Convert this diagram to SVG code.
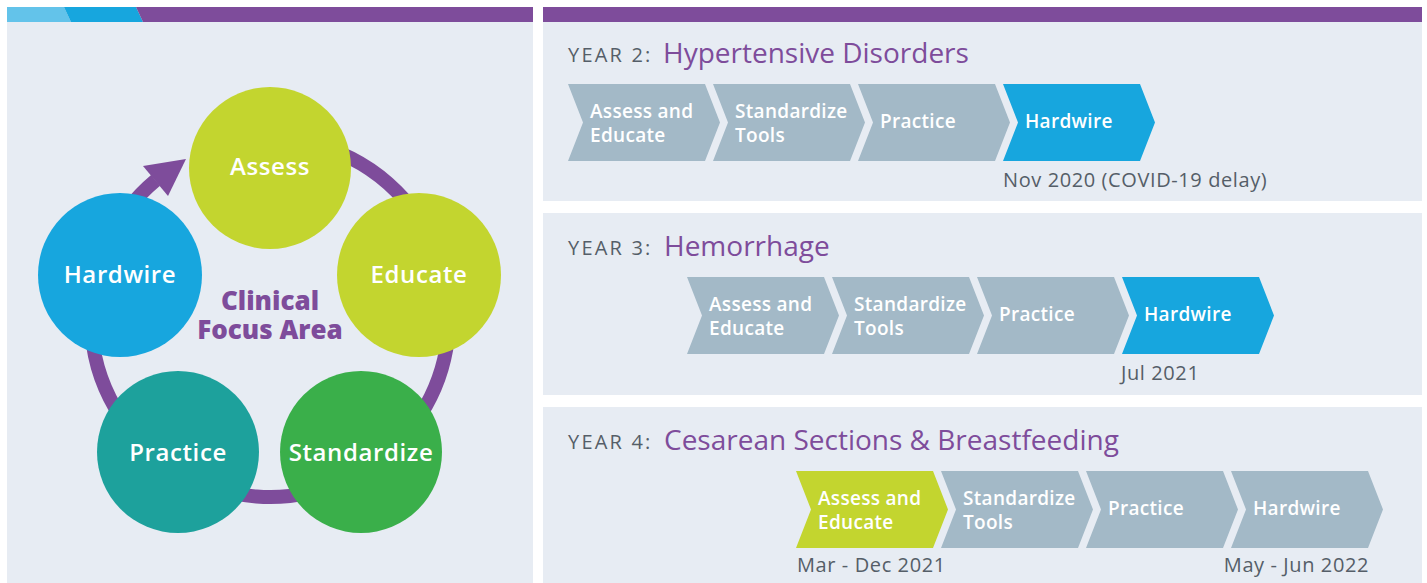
<svg xmlns="http://www.w3.org/2000/svg" width="1427" height="583" viewBox="0 0 1427 583">
<style>
.bg{fill:#E7ECF3}
.pur{fill:#7E4C9B}
.chev{fill:#A3B9C7}
.chevb{fill:#17A6DE}
.chevg{fill:#C3D52F}
.ct{font-family:"Open Sans",sans-serif;font-weight:600;font-size:19px;fill:#fff;letter-spacing:0.3px}
.circ{font-family:"Open Sans",sans-serif;font-weight:600;font-size:24px;fill:#fff;text-anchor:middle;letter-spacing:0.6px}
.cfa{font-family:"Open Sans",sans-serif;font-weight:800;font-size:26px;fill:#7E4C9B;text-anchor:middle}
.yr{font-family:"Open Sans",sans-serif;font-size:20px;fill:#555E68;letter-spacing:2.2px}
.ttl{font-family:"Open Sans",sans-serif;font-weight:500;font-size:28px;fill:#7E4C9B}
.dt{font-family:"Open Sans",sans-serif;font-size:20px;fill:#555E68;letter-spacing:0.6px}
</style>
<defs>
<path id="chev" d="M0,0 L137,0 L152,38.5 L137,77 L0,77 L15,38.5 Z"/>
</defs>
<rect width="1427" height="583" fill="#fff"/>
<!-- left panel -->
<rect class="bg" x="7" y="7" width="526" height="576"/>
<polygon points="7,7 64,7 71,22 7,22" fill="#63C3EA"/>
<polygon points="64,7 136,7 143,22 71,22" fill="#17A6DE"/>
<polygon class="pur" points="136,7 533,7 533,22 143,22"/>
<g id="connectors">
<path d="M155.6,180.3 A179,179 0 1 0 238.9,141.7" fill="none" stroke="#7E4C9B" stroke-width="14"/>
<polygon class="pur" points="143,166 168,196 186,159"/>
</g>
<g id="node-assess"><circle cx="270" cy="168" r="81" fill="#C3D52F"/><text class="circ" x="270" y="175">Assess</text></g>
<g id="node-educate"><circle cx="419" cy="275" r="82" fill="#C3D52F"/><text class="circ" x="419" y="283">Educate</text></g>
<g id="node-hardwire"><circle cx="120" cy="275" r="82" fill="#17A6DE"/><text class="circ" x="120" y="283">Hardwire</text></g>
<g id="node-practice"><circle cx="178" cy="452" r="81" fill="#1DA19C"/><text class="circ" x="178" y="461">Practice</text></g>
<g id="node-standardize"><circle cx="361" cy="452" r="81" fill="#3AAF4A"/><text class="circ" x="361" y="461">Standardize</text></g>
<g id="center-label"><text class="cfa" x="270" y="310">Clinical</text><text class="cfa" x="270" y="339">Focus Area</text></g>
<!-- right panels -->
<rect class="bg" x="543" y="7" width="879" height="194"/>
<rect class="pur" x="543" y="7" width="879" height="15"/>
<rect class="bg" x="543" y="213" width="879" height="182"/>
<rect class="bg" x="543" y="407" width="879" height="176"/>
<g id="year2">
<text class="yr" x="568" y="62">YEAR 2:</text><text class="ttl" x="663" y="63">Hypertensive Disorders</text>
<g id="y2-assess"><use href="#chev" x="568" y="84" class="chev"/><text class="ct" x="590" y="118">Assess and</text><text class="ct" x="590" y="142">Educate</text></g>
<g id="y2-standardize"><use href="#chev" x="713" y="84" class="chev"/><text class="ct" x="735" y="118">Standardize</text><text class="ct" x="735" y="142">Tools</text></g>
<g id="y2-practice"><use href="#chev" x="858" y="84" class="chev"/><text class="ct" x="880" y="128">Practice</text></g>
<g id="y2-hardwire"><use href="#chev" x="1003" y="84" class="chevb"/><text class="ct" x="1025" y="128">Hardwire</text></g>
<text class="dt" x="1003" y="187">Nov 2020 (COVID-19 delay)</text>
</g>
<g id="year3">
<text class="yr" x="568" y="255">YEAR 3:</text><text class="ttl" x="664" y="256">Hemorrhage</text>
<g id="y3-assess"><use href="#chev" x="687" y="277" class="chev"/><text class="ct" x="709" y="311">Assess and</text><text class="ct" x="709" y="335">Educate</text></g>
<g id="y3-standardize"><use href="#chev" x="832" y="277" class="chev"/><text class="ct" x="854" y="311">Standardize</text><text class="ct" x="854" y="335">Tools</text></g>
<g id="y3-practice"><use href="#chev" x="977" y="277" class="chev"/><text class="ct" x="999" y="321">Practice</text></g>
<g id="y3-hardwire"><use href="#chev" x="1122" y="277" class="chevb"/><text class="ct" x="1144" y="321">Hardwire</text></g>
<text class="dt" x="1121" y="380">Jul 2021</text>
</g>
<g id="year4">
<text class="yr" x="568" y="449">YEAR 4:</text><text class="ttl" x="664" y="450">Cesarean Sections &amp; Breastfeeding</text>
<g id="y4-assess"><use href="#chev" x="796" y="471" class="chevg"/><text class="ct" x="818" y="505">Assess and</text><text class="ct" x="818" y="529">Educate</text></g>
<g id="y4-standardize"><use href="#chev" x="941" y="471" class="chev"/><text class="ct" x="963" y="505">Standardize</text><text class="ct" x="963" y="529">Tools</text></g>
<g id="y4-practice"><use href="#chev" x="1086" y="471" class="chev"/><text class="ct" x="1108" y="515">Practice</text></g>
<g id="y4-hardwire"><use href="#chev" x="1231" y="471" class="chev"/><text class="ct" x="1253" y="515">Hardwire</text></g>
<text class="dt" x="797" y="572">Mar - Dec 2021</text>
<text class="dt" x="1369" y="572" text-anchor="end">May - Jun 2022</text>
</g>
</svg>
